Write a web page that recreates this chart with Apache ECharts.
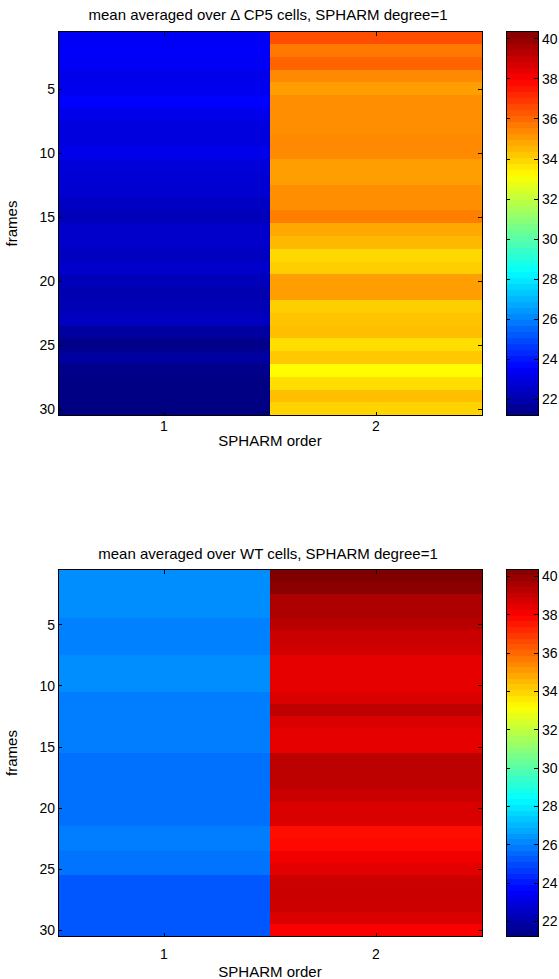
<!DOCTYPE html>
<html><head><meta charset="utf-8">
<script src="https://cdn.jsdelivr.net/npm/echarts@6/dist/echarts.min.js"></script>
<style>html,body{margin:0;padding:0;background:#fff}#c{width:559px;height:979px}#c svg path{shape-rendering:crispEdges}</style>
</head><body><div id="c"></div>
<script>
// ---- data ----
const orders = ['1', '2'];
const frames = ['1','2','3','4','5','6','7','8','9','10','11','12','13','14','15','16','17','18','19','20','21','22','23','24','25','26','27','28','29','30'];
const frameTickLabels = ['5', '10', '15', '20', '25', '30'];
const colorbarTicks = [22, 24, 26, 28, 30, 32, 34, 36, 38, 40];
const CMIN = 21.2, CMAX = 40.35;

// Delta CP5 cells, mean per frame
const cp5Order1 = [23.4, 23.5, 23.4, 23.2, 23.3, 23.6, 23.2, 23.0, 23.0, 23.2,
                   22.9, 22.8, 22.7, 22.5, 22.3, 22.6, 22.6, 22.4, 22.6, 22.3,
                   22.1, 22.2, 22.4, 21.8, 21.4, 21.8, 21.4, 21.3, 21.3, 21.25];
const cp5Order2 = [36.5, 35.7, 36.1, 35.4, 35.0, 35.3, 35.3, 35.3, 35.4, 35.4,
                   35.0, 35.0, 35.3, 35.3, 35.6, 34.8, 34.5, 33.9, 34.1, 35.0,
                   35.0, 34.1, 34.3, 34.4, 33.8, 34.2, 33.2, 33.8, 34.4, 34.0];
// WT cells, mean per frame
const wtOrder1 = [26.25, 26.25, 26.25, 26.25, 26.0, 26.0, 26.0, 26.25, 26.25, 26.25,
                  25.95, 25.95, 25.95, 25.95, 25.95, 25.7, 25.7, 25.7, 25.7, 25.7,
                  25.7, 25.95, 25.95, 25.75, 25.75, 25.2, 25.2, 25.2, 25.2, 25.2];
const wtOrder2 = [40.4, 40.15, 39.5, 39.5, 39.3, 38.95, 38.85, 38.4, 38.4, 38.4,
                  38.65, 39.2, 38.65, 38.4, 38.4, 39.2, 39.2, 39.2, 38.95, 38.65,
                  38.65, 37.7, 37.8, 38.2, 38.5, 38.9, 38.95, 38.9, 38.65, 38.05];

const jet = ['#000080','#0000ff','#0080ff','#00ffff','#80ff80','#ffff00','#ff8000','#ff0000','#800000'];
const FONT = '"Liberation Sans", Arial, sans-serif';

function cells(col1, col2) {
  const d = [];
  col1.forEach((v, i) => d.push([0, i, v]));
  col2.forEach((v, i) => d.push([1, i, v]));
  return d;
}
const LEVELS = 64;
const levelCats = [], levelCells = [];
for (let i = 0; i < LEVELS; i++) {
  levelCats.push(String(i));
  levelCells.push([0, i, CMIN + (i + 0.5) * (CMAX - CMIN) / LEVELS]);
}

const grids = [
  {left: 58, top: 31.5, width: 424, height: 384, outerBoundsMode: 'none'},
  {left: 58, top: 569.5, width: 424, height: 367, outerBoundsMode: 'none'},
  {left: 506, top: 31.5, width: 32, height: 384, outerBoundsMode: 'none'},
  {left: 506, top: 569.5, width: 32, height: 367, outerBoundsMode: 'none'}
];
const xLabelMargin = [3, 10];
const xNameGap = [16, 27];
const line = {show: true, lineStyle: {color: '#000', width: 1}};
const tickIn = (extra) => Object.assign({show: true, inside: true, length: 4, lineStyle: {color: '#000'}}, extra || {});
const lab = {color: '#000', fontSize: 14, fontFamily: FONT};
const frameInterval = (idx, val) => frameTickLabels.indexOf(val) >= 0;

const xAxis = [], yAxis = [];
[0, 1].forEach(g => {
  xAxis.push({type: 'category', gridIndex: g, data: orders, position: 'bottom', z: 10,
    axisLine: line, axisTick: tickIn({alignWithLabel: true}),
    axisLabel: Object.assign({margin: xLabelMargin[g]}, lab),
    name: 'SPHARM order', nameLocation: 'middle', nameGap: xNameGap[g],
    nameTextStyle: {color: '#000', fontSize: 15, fontFamily: FONT}});
  xAxis.push({type: 'category', gridIndex: g, data: orders, position: 'top', z: 10,
    axisLine: line, axisTick: tickIn({alignWithLabel: true}), axisLabel: {show: false}});
  yAxis.push({type: 'category', gridIndex: g, data: frames, inverse: true, position: 'left', z: 10,
    axisLine: line, axisTick: tickIn({alignWithLabel: true, interval: frameInterval}),
    axisLabel: Object.assign({margin: 3, interval: frameInterval}, lab),
    name: 'frames', nameLocation: 'middle', nameRotate: 90, nameGap: 39,
    nameTextStyle: {color: '#000', fontSize: 15, fontFamily: FONT}});
  yAxis.push({type: 'category', gridIndex: g, data: frames, inverse: true, position: 'right', z: 10,
    axisLine: line, axisTick: tickIn({alignWithLabel: true, interval: frameInterval}), axisLabel: {show: false}});
});
[2, 3].forEach(g => {
  xAxis.push({type: 'category', gridIndex: g, data: ['c'], position: 'bottom', z: 10,
    axisLine: line, axisTick: {show: false}, axisLabel: {show: false}});
  xAxis.push({type: 'category', gridIndex: g, data: ['c'], position: 'top', z: 10,
    axisLine: line, axisTick: {show: false}, axisLabel: {show: false}});
  yAxis.push({type: 'category', gridIndex: g, data: levelCats, show: false});
  yAxis.push({type: 'value', gridIndex: g, min: CMIN, max: CMAX, position: 'left', z: 10,
    axisLine: line, axisTick: tickIn({customValues: colorbarTicks}),
    axisLabel: {show: false}, splitLine: {show: false}});
  yAxis.push({type: 'value', gridIndex: g, min: CMIN, max: CMAX, position: 'right', z: 10,
    axisLine: line, axisTick: tickIn({customValues: colorbarTicks}),
    axisLabel: Object.assign({margin: 4, customValues: colorbarTicks}, lab), splitLine: {show: false}});
});

const option = {
  animation: false,
  backgroundColor: '#fff',
  title: [
    {text: 'mean averaged over \u0394 CP5 cells, SPHARM degree=1', left: 268, top: 7, textAlign: 'center', padding: 0,
     textStyle: {color: '#000', fontSize: 15, fontWeight: 'normal', fontFamily: FONT}},
    {text: 'mean averaged over WT cells, SPHARM degree=1', left: 268, top: 546, textAlign: 'center', padding: 0,
     textStyle: {color: '#000', fontSize: 15, fontWeight: 'normal', fontFamily: FONT}}
  ],
  grid: grids,
  xAxis: xAxis,
  yAxis: yAxis,
  visualMap: [{type: 'continuous', show: false, min: CMIN, max: CMAX, dimension: 2,
    seriesIndex: [0, 1, 2, 3], inRange: {color: jet}}],
  series: [
    {type: 'heatmap', xAxisIndex: 0, yAxisIndex: 0, data: cells(cp5Order1, cp5Order2)},
    {type: 'heatmap', xAxisIndex: 2, yAxisIndex: 2, data: cells(wtOrder1, wtOrder2)},
    {type: 'heatmap', xAxisIndex: 4, yAxisIndex: 4, data: levelCells},
    {type: 'heatmap', xAxisIndex: 6, yAxisIndex: 7, data: levelCells}
  ]
};
const chart = echarts.init(document.getElementById('c'), null, {renderer: 'svg'});
chart.setOption(option);
</script></body></html>
